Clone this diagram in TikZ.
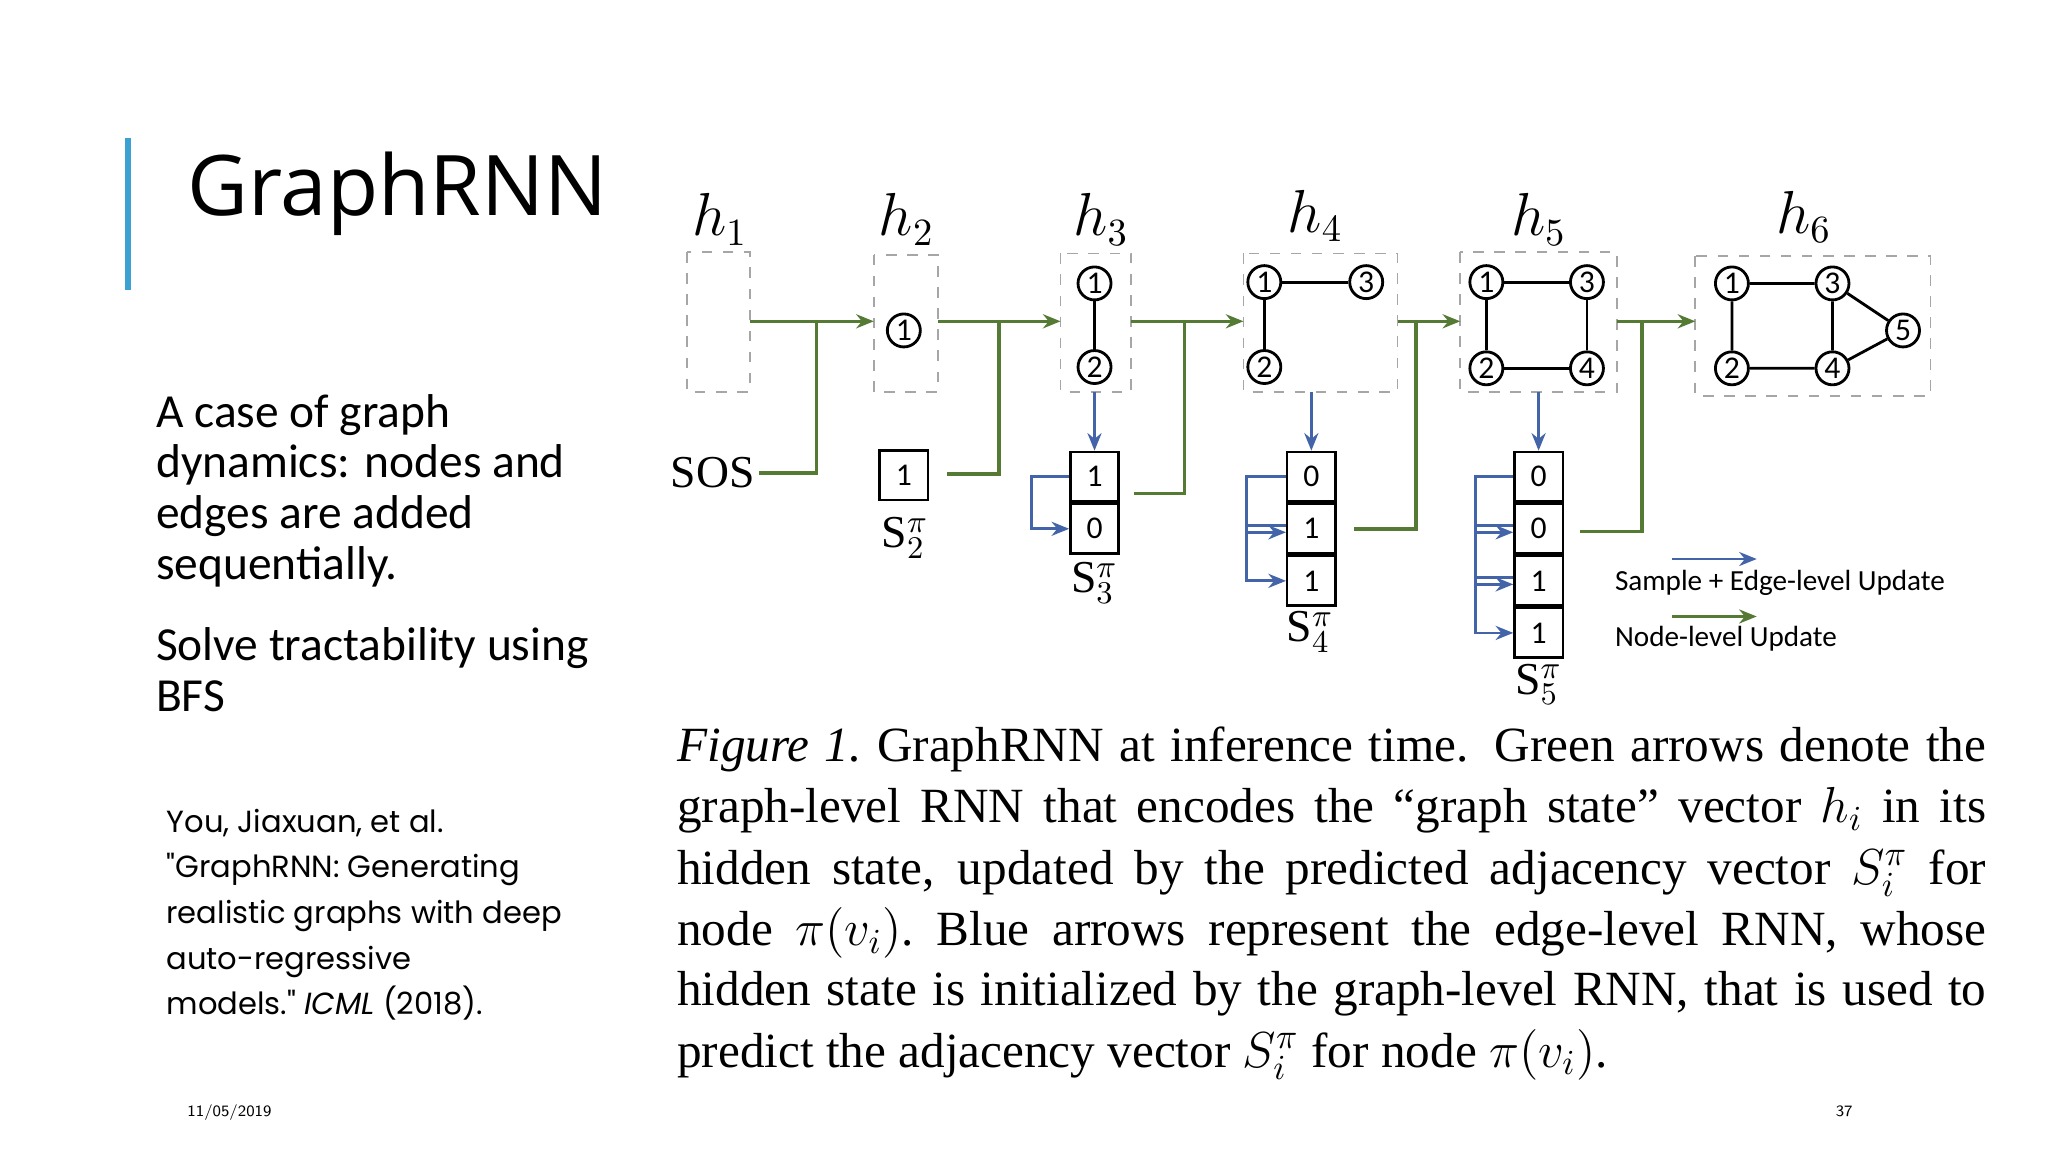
\documentclass[tikz,border=0pt]{standalone}
\usepackage{fontspec}
\setmainfont{Liberation Serif}
\newfontfamily\titlef{Open Sans}
\newfontfamily\bodyf{Carlito}
\newfontfamily\reff{Poppins}
\usetikzlibrary{arrows.meta}
\definecolor{gr}{RGB}{84,122,52}
\definecolor{bl}{RGB}{68,100,170}
\definecolor{acc}{RGB}{60,160,210}
\tikzset{
 hbox/.style={draw=gray!70,dashed,line width=0.5pt},
 gn/.style={circle,draw,line width=0.8pt,minimum size=0.33cm,inner sep=0pt,font=\bodyf\fontsize{9}{9}\selectfont},
 ge/.style={line width=0.8pt},
 garr/.style={draw=gr,line width=1pt,-{Stealth[length=5pt,width=4pt]}},
 gline/.style={draw=gr,line width=1pt},
 barr/.style={draw=bl,line width=0.8pt,-{Stealth[length=5pt,width=4pt]}},
 cell/.style={draw,line width=0.7pt,minimum width=0.483cm,minimum height=0.496cm,inner sep=0pt,font=\bodyf\fontsize{9}{9}\selectfont},
 hl/.style={font=\fontsize{16}{16}\selectfont},
 sl/.style={font=\fontsize{13}{13}\selectfont},
 capline/.style={anchor=base west,inner sep=0pt,font=\fontsize{14}{14}\selectfont},
}
\begin{document}
\begin{tikzpicture}[x=0.01306cm,y=-0.01306cm]
\useasboundingbox (0,0) rectangle (1568,882);
\fill[white] (0,0) rectangle (1568,882);
% left side
\draw[acc,line width=1.5pt] (98,106) -- (98,222);
\node[anchor=base west,inner sep=0pt,font=\titlef\fontsize{23.8}{24}\selectfont] (title) at (143,165) {GraphRNN};
\node[anchor=base west,inner sep=0pt,align=left,font=\bodyf\fontsize{13.5}{14.5}\selectfont] (b1) at (119,444) {A case of graph\\dynamics: nodes and\\edges are added\\sequentially.};
\node[anchor=base west,inner sep=0pt,align=left,font=\bodyf\fontsize{13.5}{14.5}\selectfont] (b2) at (119,545) {Solve tractability using\\BFS};
\node[anchor=base west,inner sep=0pt,align=left,font=\reff\fontsize{8.7}{13}\selectfont] (ref) at (127,777) {You, Jiaxuan, et al.\\"GraphRNN: Generating\\realistic graphs with deep\\auto-regressive\\models." \emph{ICML} (2018).};
\node[anchor=base west,inner sep=0pt,font=\sffamily\fontsize{4.5}{5}\selectfont] (date) at (143,855) {11/05/2019};
\node[anchor=base west,inner sep=0pt,font=\sffamily\fontsize{4.5}{5}\selectfont] (pg) at (1405,855) {37};
% h labels
\node[hl] (lh1) at (551,168) {$h_1$};
\node[hl] (lh2) at (694,168) {$h_2$};
\node[hl] (lh3) at (843,168) {$h_3$};
\node[hl] (lh4) at (1007,165) {$h_4$};
\node[hl] (lh5) at (1178,168) {$h_5$};
\node[hl] (lh6) at (1381,166) {$h_6$};
% boxes
\draw[hbox] (526,193) rectangle (574,300); \coordinate (b1r) at (574,246);
\draw[hbox] (669,195) rectangle (718,300);
\draw[hbox] (812,194) rectangle (866,300);
\draw[hbox] (952,194) rectangle (1070,300);
\draw[hbox] (1118,193) rectangle (1238,300);
\draw[hbox] (1298,196) rectangle (1478,303);
\coordinate (b2l) at (669,246); \coordinate (b2r) at (718,246);
\coordinate (b3l) at (812,246); \coordinate (b3r) at (866,246);
\coordinate (b4l) at (952,246); \coordinate (b4r) at (1070,246);
\coordinate (b5l) at (1118,246); \coordinate (b5r) at (1238,246);
\coordinate (b6l) at (1298,246);
% graph nodes
\node[gn] (a1) at (692,253) {1};
\node[gn] (c1) at (838,217) {1};
\node[gn] (c2) at (838,281) {2};
\draw[ge] (c1) -- (c2);
\node[gn] (d1) at (968,216) {1};
\node[gn] (d3) at (1046,216) {3};
\node[gn] (d2) at (968,281) {2};
\draw[ge] (d1) -- (d3) (d1) -- (d2);
\node[gn] (e1) at (1138,216) {1};
\node[gn] (e3) at (1215,216) {3};
\node[gn] (e2) at (1138,282) {2};
\node[gn] (e4) at (1215,282) {4};
\draw[ge] (e1) -- (e3) (e1) -- (e2) (e2) -- (e4) (e3) -- (e4);
\node[gn] (f1) at (1326,217) {1};
\node[gn] (f3) at (1403,217) {3};
\node[gn] (f2) at (1326,282) {2};
\node[gn] (f4) at (1403,282) {4};
\node[gn] (f5) at (1457,253) {5};
\draw[ge] (f1) -- (f3) (f1) -- (f2) (f2) -- (f4) (f3) -- (f4) (f3) -- (f5) (f4) -- (f5);
% green arrows
\draw[garr] (b1r) -- (b2l);
\draw[garr] (b2r) -- (b3l);
\draw[garr] (b3r) -- (b4l);
\draw[garr] (b4r) -- (b5l);
\draw[garr] (b5r) -- (b6l);
% SOS and vectors
\node[sl,anchor=east,inner sep=1pt] (sos) at (581,362) {SOS};
\node[cell] (s21) at (692,364) {1};
\node[sl] (ls2) at (693,412) {S$_2^\pi$};
\node[cell] (s31) at (838,365) {1};
\node[cell,anchor=north] (s32) at (s31.south) {0};
\node[sl] (ls3) at (838,446) {S$_3^\pi$};
\node[cell] (s41) at (1004,365) {0};
\node[cell,anchor=north] (s42) at (s41.south) {1};
\node[cell,anchor=north] (s43) at (s42.south) {1};
\node[sl] (ls4) at (1003,484) {S$_4^\pi$};
\node[cell] (s51) at (1178,365) {0};
\node[cell,anchor=north] (s52) at (s51.south) {0};
\node[cell,anchor=north] (s53) at (s52.south) {1};
\node[cell,anchor=north] (s54) at (s53.south) {1};
\node[sl] (ls5) at (1178,524) {S$_5^\pi$};
% green joins
\draw[gline] (sos.east) -- (625,362) -- (625,246);
\draw[gline] (725,363) -- (765,363) -- (765,246);
\draw[gline] (868,378) -- (907,378) -- (907,246);
\draw[gline] (1037,405) -- (1084,405) -- (1084,246);
\draw[gline] (1210,407) -- (1257,407) -- (1257,246);
% blue arrows
\draw[barr] (838,300) -- (s31.north);
\draw[barr] (1004,300) -- (s41.north);
\draw[barr] (1178,300) -- (s51.north);
\draw[barr] (s31.west) -- ++(-29,0) |- (s32.west);
\draw[barr] (s41.west) -- ++(-30,0) |- ([yshift=-1]s42.west);
\draw[barr] ([yshift=1]s42.west) -- ++(-30,0) |- (s43.west);
\draw[barr] (s51.west) -- ++(-29,0) |- ([yshift=-1]s52.west);
\draw[barr] ([yshift=1]s52.west) -- ++(-29,0) |- ([yshift=-1]s53.west);
\draw[barr] ([yshift=1]s53.west) -- ++(-29,0) |- (s54.west);
% legend
\coordinate (lb1) at (1280,428); \coordinate (lb2) at (1345,428);
\coordinate (lg1) at (1280,472); \coordinate (lg2) at (1345,472);
\draw[barr] (lb1) -- (lb2);
\draw[garr] (lg1) -- (lg2);
\node[anchor=base west,inner sep=0pt,font=\bodyf\fontsize{8.3}{9}\selectfont] (leg1) at (1236,452) {Sample + Edge-level Update};
\node[anchor=base west,inner sep=0pt,font=\bodyf\fontsize{8.3}{9}\selectfont] (leg2) at (1236,495) {Node-level Update};
% caption
\node[capline] (c1l) at (518,583) {\makebox[13.09cm][s]{\emph{Figure 1.}\ GraphRNN at inference time. Green arrows denote the}};
\node[capline] (c2l) at (518,630) {\makebox[13.09cm][s]{graph-level RNN that encodes the “graph state” vector $h_i$ in its}};
\node[capline] (c3l) at (518,677) {\makebox[13.09cm][s]{hidden state, updated by the predicted adjacency vector $S_i^\pi$ for}};
\node[capline] (c4l) at (518,724) {\makebox[13.09cm][s]{node $\pi(v_i)$.\ Blue arrows represent the edge-level RNN, whose}};
\node[capline] (c5l) at (518,770) {\makebox[13.09cm][s]{hidden state is initialized by the graph-level RNN, that is used to}};
\node[capline] (c6l) at (518,817) {predict the adjacency vector $S_i^\pi$ for node $\pi(v_i)$.};
\end{tikzpicture}
\end{document}
